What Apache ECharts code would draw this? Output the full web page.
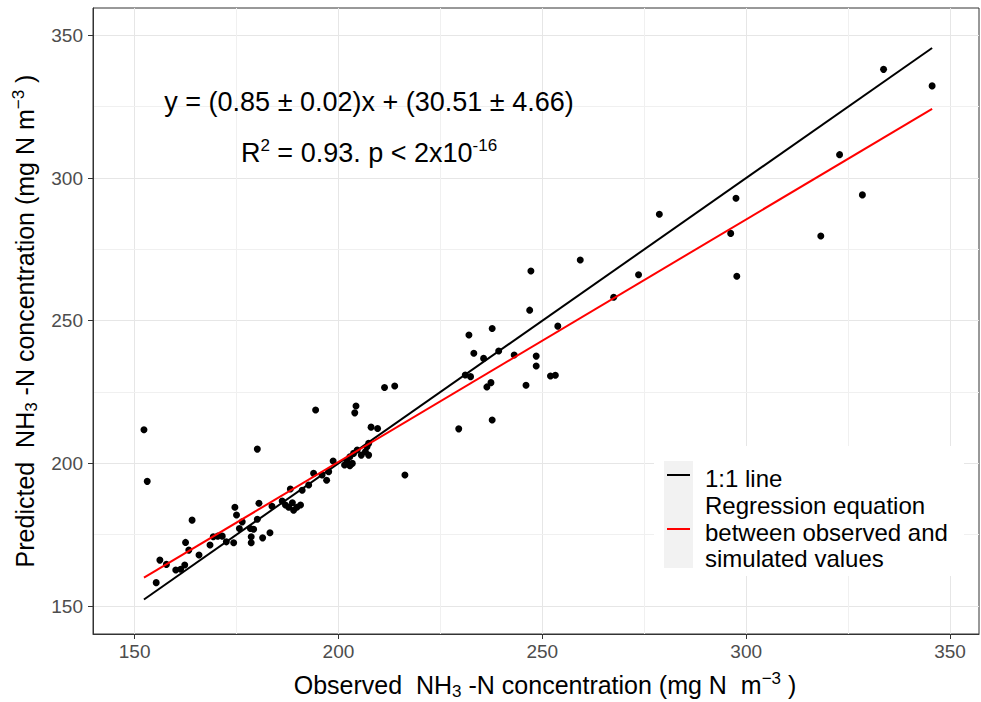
<!DOCTYPE html>
<html>
<head>
<meta charset="utf-8">
<script src="https://cdn.jsdelivr.net/npm/echarts@6/dist/echarts.min.js"></script>
<style>
html,body{margin:0;padding:0;background:#fff;}
#main{width:981px;height:702px;}
</style>
</head>
<body>
<div id="main"></div>
<script>
// observed vs predicted NH3-N (mg N m-3)
var observed=[152.3,153.1,155.3,156.2,157.8,160.1,161.3,162.3,162.5,163.3,164.1,165.8,168.5,169.3,170.4,171.5,172.5,174.3,174.6,175.0,175.7,176.4,178.4,178.6,178.6,179.2,180.1,180.1,180.5,181.4,183.2,183.7,
    186.2,187.0,187.8,188.2,188.7,189.0,189.8,190.7,191.1,192.7,193.9,194.4,196.0,197.1,197.6,198.7,201.5,202.1,202.8,202.8,203.4,203.7,204.0,204.3,204.6,205.6,206.6,207.0,207.4,207.4,208.0,209.6,211.3,213.8,216.3,
    229.5,231.1,232.0,232.4,233.2,235.6,236.4,237.4,237.7,237.7,239.3,243.1,246.0,246.9,247.2,248.5,248.5,252.0,253.2,253.8,259.3,267.5,273.6,278.7,296.2,297.5,297.7,318.3,322.9,328.5,333.7,345.6];
var predicted=[211.8,193.7,158.2,166.1,164.6,162.6,162.9,164.4,172.3,169.6,180.1,167.9,171.4,174.3,174.5,174.5,172.5,172.2,184.6,181.9,177.2,179.5,177.2,174.3,172.2,176.9,180.4,205.0,186.0,173.9,175.7,185.0,
    186.8,185.4,184.6,191.0,186.2,183.6,184.6,185.4,190.6,192.4,196.5,218.7,195.9,194.1,197.1,200.8,199.4,200.6,199.2,202.3,200.0,203.5,217.7,220.1,204.7,202.9,204.1,205.8,207.0,202.9,212.7,212.2,226.6,227.1,195.9,
    212.1,231.0,245.0,230.4,238.6,236.8,226.8,228.3,247.3,215.2,239.4,238.0,227.4,253.7,267.4,237.6,234.1,230.6,230.9,248.1,271.3,258.2,266.1,287.3,280.6,292.9,265.6,279.7,308.2,294.1,338.1,332.3];
var tickValues=[150,200,250,300,350];
var minorValues=[175,225,275,325];
var slope=0.85, intercept=30.51;

var font='"Liberation Sans", Arial, sans-serif';
var points=observed.map(function(x,i){return [x,predicted[i]];});
var xLo=Math.min.apply(null,observed), xHi=Math.max.apply(null,observed);
var oneToOne=[[xLo,xLo],[xHi,xHi]];
var regLine=[[xLo,slope*xLo+intercept],[xHi,slope*xHi+intercept]];

var minorLines=[];
minorValues.forEach(function(v){minorLines.push({xAxis:v});minorLines.push({yAxis:v});});

var titleRich={
    sub:{fontSize:17,fontFamily:font,color:'#000',verticalAlign:'bottom',lineHeight:16},
    sup:{fontSize:17,fontFamily:font,color:'#000',verticalAlign:'top',lineHeight:12}
};

var myChart=echarts.init(document.getElementById('main'),null,{renderer:'svg'});
var option={
    animation:false,
    backgroundColor:'#fff',
    grid:{left:93,right:2,top:8,bottom:68,containLabel:false,outerBoundsMode:'none',
        show:true,borderColor:'#333',borderWidth:1,backgroundColor:'transparent'},
    xAxis:{
        type:'value',min:139.8,max:357.1,
        name:'Observed  NH{sub|3} -N concentration (mg N  m{sup|\u22123} )',
        nameLocation:'middle',nameGap:36,
        nameTextStyle:{fontSize:25,fontFamily:font,color:'#000',lineHeight:30,padding:[0,0,0,18],rich:titleRich},
        axisLine:{show:true,lineStyle:{color:'#333',width:1}},
        axisTick:{show:true,length:5,customValues:tickValues,lineStyle:{color:'#333'}},
        axisLabel:{customValues:tickValues,fontSize:19,fontFamily:font,color:'#4d4d4d',margin:8,
            formatter:function(v){return v%50===0?v:'';}},
        splitLine:{show:true,lineStyle:{color:'#e6e6e6',width:1}}
    },
    yAxis:{
        type:'value',min:140.2,max:359.6,
        name:'Predicted  NH{sub|3} -N concentration (mg N m{sup|\u22123} )',
        nameLocation:'middle',nameGap:52,nameRotate:90,
        nameTextStyle:{fontSize:25,fontFamily:font,color:'#000',lineHeight:30,rich:titleRich},
        axisLine:{show:true,lineStyle:{color:'#333',width:1}},
        axisTick:{show:true,length:5,customValues:tickValues,lineStyle:{color:'#333'}},
        axisLabel:{customValues:tickValues,fontSize:19,fontFamily:font,color:'#4d4d4d',margin:10,
            formatter:function(v){return v%50===0?v:'';}},
        splitLine:{show:true,lineStyle:{color:'#e6e6e6',width:1}}
    },
    series:[
        {
            name:'minor grid',type:'line',data:[],z:0,silent:true,
            markLine:{silent:true,z:0,symbol:['none','none'],label:{show:false},
                lineStyle:{color:'#f0f0f0',width:1,type:'solid'},emphasis:{disabled:true},
                data:minorLines}
        },
        {
            name:'points',type:'scatter',data:points,symbolSize:7,z:6,
            itemStyle:{color:'#000',opacity:1}
        },
        {
            name:'1:1 line',type:'line',data:oneToOne,showSymbol:false,z:7,
            lineStyle:{color:'#000',width:2}
        },
        {
            name:'Regression equation',type:'line',data:regLine,showSymbol:false,z:7,
            lineStyle:{color:'#ff0000',width:2}
        }
    ],
    graphic:[
        {type:'text',z:50,x:369,y:102,style:{text:'y = (0.85 \u00b1 0.02)x + (30.51 \u00b1 4.66)',
            fontSize:27,fontFamily:font,fill:'#000',align:'center',verticalAlign:'middle'}},
        {type:'text',z:50,x:369,y:153,style:{text:'R{sup|2} = 0.93. p < 2x10{sup|-16}',
            fontSize:27,fontFamily:font,fill:'#000',align:'center',verticalAlign:'middle',lineHeight:32,
            rich:{sup:{fontSize:17,fontFamily:font,fill:'#000',verticalAlign:'top',lineHeight:16}}}},
        // legend
        {type:'rect',z:60,shape:{x:654,y:446,width:310,height:130},style:{fill:'#fff'}},
        {type:'rect',z:61,shape:{x:664,y:461,width:29,height:107},style:{fill:'#f2f2f2'}},
        {type:'line',z:62,shape:{x1:667,y1:475,x2:690,y2:475},style:{stroke:'#000',lineWidth:2}},
        {type:'line',z:62,shape:{x1:667,y1:529,x2:690,y2:529},style:{stroke:'#ff0000',lineWidth:2}},
        {type:'text',z:62,x:705,y:478,style:{text:'1:1 line',fontSize:24,fontFamily:font,fill:'#000',verticalAlign:'middle'}},
        {type:'text',z:62,x:705,y:505,style:{text:'Regression equation',fontSize:24,fontFamily:font,fill:'#000',verticalAlign:'middle'}},
        {type:'text',z:62,x:705,y:532,style:{text:'between observed and',fontSize:24,fontFamily:font,fill:'#000',verticalAlign:'middle'}},
        {type:'text',z:62,x:705,y:558,style:{text:'simulated values',fontSize:24,fontFamily:font,fill:'#000',verticalAlign:'middle'}}
    ]
};
myChart.setOption(option);
</script>
</body>
</html>
